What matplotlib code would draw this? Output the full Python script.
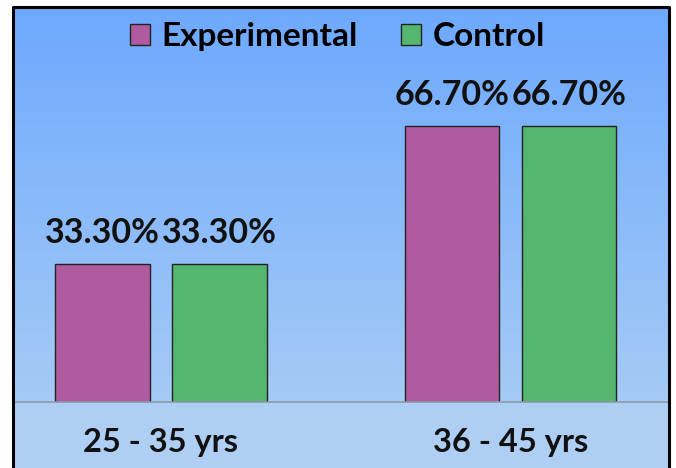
import matplotlib.pyplot as plt
import numpy as np
from matplotlib.colors import LinearSegmentedColormap
from matplotlib.lines import Line2D
from matplotlib.patches import Rectangle

categories = ["25 - 35 yrs", "36 - 45 yrs"]
experimental = [33.3, 66.7]
control = [33.3, 66.7]
series_names = ["Experimental", "Control"]

PURPLE = "#b05a9f"
GREEN = "#55b76f"
FONT = "Lato"

W, H = 676, 468
fig = plt.figure(figsize=(W / 100, H / 100), dpi=100)
fig.patch.set_facecolor("white")

# floor band below the baseline
fig.add_artist(Rectangle((14 / W, 0), 654 / W, (H - 402) / H,
                         transform=fig.transFigure, facecolor="#aecff3",
                         edgecolor="none", zorder=0))

ax = fig.add_axes([14 / W, (H - 402) / H, 654 / W, (402 - 8) / H])
ax.set_zorder(1)

# vertical sky gradient behind the bars (dark at the top)
sky = LinearSegmentedColormap.from_list("sky", ["#6ba7fe", "#a5cbf5"])
grad = np.linspace(0, 1, 256).reshape(-1, 1)
ax.imshow(grad, cmap=sky, aspect="auto", origin="upper",
          extent=(-0.42, 1.45, 0, 100), zorder=0)

x = np.arange(len(categories))
off, bw = 0.167, 0.27
b1 = ax.bar(x - off, experimental, bw, color=PURPLE, edgecolor="#222222",
            linewidth=1, zorder=2, label=series_names[0])
b2 = ax.bar(x + off, control, bw, color=GREEN, edgecolor="#222222",
            linewidth=1, zorder=2, label=series_names[1])

for bars, vals in ((b1, experimental), (b2, control)):
    for rect, v in zip(bars, vals):
        ax.text(rect.get_x() + rect.get_width() / 2, v + 3.7, f"{v:.2f}%",
                ha="center", va="bottom", fontsize=24.5, fontweight="bold",
                family=FONT, color="#111111", zorder=3)

ax.set_xlim(-0.42, 1.45)
ax.set_ylim(0, 95.2)
ax.set_yticks([])
ax.set_xticks(x)
ax.set_xticklabels(categories, fontsize=23.5, fontweight="bold", family=FONT)
ax.tick_params(axis="x", length=0, pad=19, colors="#111111")
for side in ("top", "left", "right"):
    ax.spines[side].set_visible(False)
ax.spines["bottom"].set_color("#8a9aa8")
ax.spines["bottom"].set_linewidth(1.2)

leg = ax.legend(loc="upper center", bbox_to_anchor=(0.495, 0.99), ncol=2,
                frameon=False, handlelength=0.6, handleheight=0.6,
                handletextpad=0.35, columnspacing=1.3, borderaxespad=0.1,
                borderpad=0.2,
                prop={"family": FONT, "weight": "bold", "size": 24})

# outer black frame (left, top, right)
fx0, fx1, fy1 = 13 / W, 669 / W, 1 - 7 / H
fig.add_artist(Line2D([fx0, fx0, fx1, fx1], [0, fy1, fy1, 0],
                      transform=fig.transFigure, color="black",
                      linewidth=2.2, zorder=5))

fig.savefig("out.png", dpi=100)
